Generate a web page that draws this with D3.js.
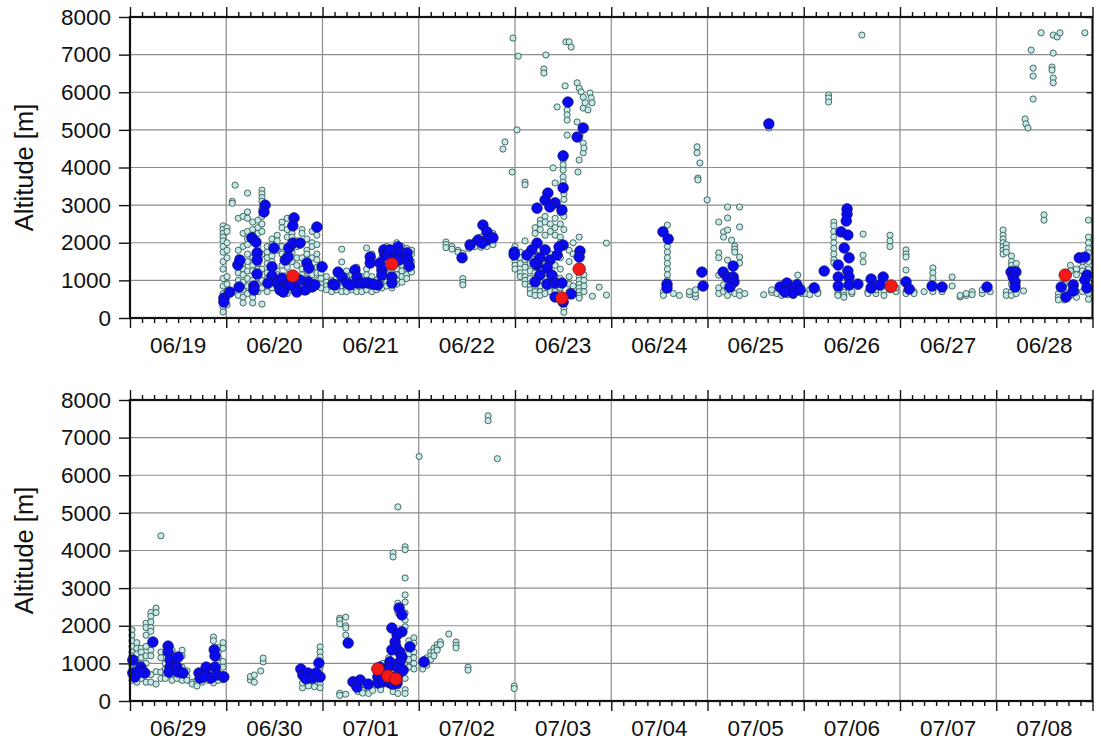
<!DOCTYPE html>
<html>
<head>
<meta charset="utf-8">
<script src="https://cdn.jsdelivr.net/npm/d3@7/dist/d3.min.js"></script>
<style>
  html, body { margin: 0; padding: 0; background: #fff; }
  svg { display: block; }
  text { font-family: "Liberation Sans", Arial, Helvetica, sans-serif; fill: #111; }
</style>
</head>
<body>
<svg id="chart" width="1099" height="751"></svg>
<script>
// Time is in hours since 06/19 00:00; each panel shows ten days.
const dayLabelsTop = ["06/19","06/20","06/21","06/22","06/23","06/24","06/25","06/26","06/27","06/28"];
const dayLabelsBottom = ["06/29","06/30","07/01","07/02","07/03","07/04","07/05","07/06","07/07","07/08"];
const altTicks = [0, 1000, 2000, 3000, 4000, 5000, 6000, 7000, 8000];

// All observations: [hour, [altitudes in m]]
const allProfiles = [
  [23.2,[2450,2350,2250,2150,2050,1900,1750,1500,1300,1050,850,650,450,300,160]],
  [24.2,[2400,2300,2000,1800,1600,1100,900,700,550,350]],
  [25.5,[3100,3050]],[26.2,[3530]],
  [27.0,[2650,1800,1600,1200,1000,800,600]],
  [28.2,[2700,2250,1900,1450,1300,1150,950,750,550,400]],
  [29.3,[3320,2820,2650,2300,2100,1950,1700,1500,1250,1050,850,650]],
  [30.6,[2550,2350,2200,1600,1400,1250,1000,800,550,400]],
  [31.9,[2600,2400,2250,1900,1450,1300,900,700]],
  [32.9,[3400,3300,3200,3100,2900,2700,2500,2300,1700,1300,1000,800,370]],
  [34.2,[1900,1750,1600,1450,1200,1050,850,700]],
  [35.4,[2100,1950,1650,1500,950,800]],
  [36.7,[2200,2050,1800,1250,1150,800]],
  [37.9,[2550,2400,1900,1700,1400,900,750]],
  [39.2,[2650,2350,2150,1350,1150,1000,800,650]],
  [40.4,[2250,2150,1750,1500,950,750]],
  [41.6,[2050,1900,1600,1400,1000,850]],
  [42.9,[2350,2250,1600,1300,1150,750]],
  [44.1,[2100,1800,1700,1250,1050,900,700]],
  [45.4,[2300,2000,1900,1600,1150,950,800]],
  [46.6,[2450,2200,1950,1700,1550,1350,1200,1000,850]],
  [47.6,[1400,1200,1050,900,800]],
  [49.0,[1100,950,850,750]],[50.3,[1000,900,800,700]],[51.5,[1200,1050,900,750]],
  [52.8,[1830,1490,1150,1000,850,700]],[54.0,[1250,1100,950,800,700]],
  [55.3,[1150,1000,850,750]],[56.5,[1350,1200,1050,900,750,700]],
  [57.8,[1100,950,800,700]],[59.0,[1860,1300,1150,1000,850,750]],
  [60.3,[1700,1450,1100,950,800,700]],[61.5,[1000,850,750]],
  [62.8,[1750,1600,1000,900,800]],[64.0,[1900,1500,1350,1150,950,850]],
  [65.3,[1650,1550,1250,1000,850,800]],[66.5,[2000,1750,1450,1300,1150,1000,900]],
  [67.8,[1900,1650,1400,1250,1100,950]],[69.0,[1850,1600,1450,1300,1150,1050]],
  [70.2,[1800,1700,1500,1350,1220]],
  [78.8,[2020,1950,1870]],[80.3,[1900,1830]],[81.8,[1800,1750]],
  [83.0,[1720,1050,950,880]],[84.5,[2000,1850]],[86.0,[2050,1950,1900]],
  [87.5,[2150,2080,1950,1880]],[89.0,[2200,2000,1900]],[90.5,[2250,2050,1950]],
  [93.0,[4490]],[93.5,[4680]],[95.3,[3880]],[95.5,[7440]],[96.5,[5000]],[96.8,[6960]],
  [98.5,[3610,3540]],[103.2,[6620,6510]],[103.7,[6990]],[108.7,[7340]],[109.5,[7340]],
  [110.0,[7200]],[108.5,[6170]],[111.5,[6250,5210]],[112.0,[6110,4200]],[112.5,[6010]],
  [113.0,[5870,5580,4650,4390]],[113.5,[5720]],[114.7,[5980]],[115.0,[5850]],[115.2,[5720]],
  [114.2,[5530]],[106.5,[5610]],[109.0,[5530,5400,5260,4860]],[112.2,[4860]],[113.2,[4520]],
  [111.7,[3880]],[105.5,[3990]],[108.0,[4200,4070,3930,3750,3610]],[106.0,[3590]],
  [96.0,[1900,1800,1650,1500,1400,1300]],
  [97.3,[1750,1600,1450,1200,1100]],
  [98.5,[2050,1550,1350,1100,1000,900]],
  [99.8,[1450,1250,1050,850,750,650]],
  [101.0,[2400,2250,1700,1200,800,700,600]],
  [102.3,[2600,2500,2350,1300,1000,850,700,600]],
  [103.5,[2700,2550,2200,1500,1250,1050,750,650]],
  [104.8,[2500,2300,1700,1200,1000,800,700]],
  [106.0,[2650,2400,2200,1400,1100,800,700,600]],
  [107.3,[2800,2500,2150,2000,1600,1300,1050,800,650]],
  [108.2,[3300,3150,2700,2350,480,350,250,150]],
  [109.5,[1800,1500,1100,900,700]],
  [110.5,[2000,1700,850]],
  [112.0,[2150,1200,1100,1000,900,800,700,600,530]],
  [113.2,[1150,1000,850,700]],
  [115.3,[580]],[117.0,[820]],[118.8,[610,1990]],
  [134.0,[2470,1900,1750,1600,1450,1300,1150,1000]],
  [133.0,[700,600]],[135.5,[650]],[137.0,[600]],
  [139.5,[620,700]],[141.0,[560,650,750]],
  [141.4,[4550,4390]],[142.1,[4120]],[141.6,[3720,3670]],[143.9,[3140]],
  [146.8,[2550,1730,1600,1140,800,650]],[148.0,[2290,2150,880,700]],
  [149.0,[2950,2660,2340,1540,750,600]],[150.0,[2070,700]],
  [150.8,[1910,1830,1750,650]],[152.0,[2950,2420,1620,1460,700,600]],
  [153.3,[650]],[158.0,[620]],[159.3,[5050]],[160.0,[680,750]],[161.3,[650]],
  [162.5,[600,700]],[164.0,[620,800]],[165.5,[600,680]],[166.5,[1140,950,700]],
  [167.5,[650,800]],
  [168.5,[650]],[169.5,[750,620]],[171.5,[700,650]],
  [174.2,[5930,5850,5740]],
  [175.5,[2550,2450,2300,2150,2000,1850,1700,1550,1460]],
  [176.5,[650,750,600]],[178.0,[680,600,550]],[180.0,[650,700]],
  [182.5,[7520]],[182.8,[2230,1670,1490]],
  [184.0,[700,650]],[186.0,[650,750]],[188.0,[700,600]],
  [189.5,[2200,2050,1900,750]],[191.0,[700,800]],
  [193.5,[1810,1700,1620,1275,700,650]],[195.5,[700,650]],[198.0,[700]],
  [200.2,[1330,1200,1060,750,700]],[202.5,[700]],[205.0,[1090,850]],
  [207.0,[560,600]],[208.5,[600,650]],[210.0,[700,620]],[212.5,[650,750]],[214.5,[700]],
  [217.7,[2340,2200,2100,2000,1900,1800,1700]],
  [218.5,[1950,1850,1750,700,600]],
  [219.8,[1650,1500,1400,1300,1150,900,700,600]],
  [221.0,[1450,1300,800,650]],[222.8,[720]],
  [227.2,[7580]],[230.2,[7520,7040,6380,6250]],[231.2,[7470]],[231.9,[7580]],[238.1,[7580]],
  [224.7,[7120]],[225.2,[6640,6430,5820]],[229.9,[6670,6590]],
  [223.2,[5290]],[223.4,[5160]],[223.9,[5050]],[227.9,[2740,2600]],
  [231.5,[650,550,480]],[233.0,[900,700,480]],[234.5,[1400,1250,600]],
  [236.0,[1300,1150,700,550]],[237.5,[1500,1350,1250,700]],
  [239.0,[2600,2150,2000,1850,1730,1500,1300,950,800,650,500]],
  [240.5,[1890,1750,1600,1450,1300,1200,950,850,650,550]],
  [241.7,[1550,1400,1250,1100,800,600,500]],
  [242.8,[1400,1300,1150,1000,700,600]],
  [244.0,[2070,1950,1750,1450,1200,1000,500]],
  [245.2,[2350,2250,2100,1950,1850,1350,1200,700,500]],
  [246.5,[2470,2350,780,450]],
  [247.7,[4390,1300,1150,770,600]],
  [248.8,[1000,850,700,600]],[250.5,[1350,1200,750,650,550]],
  [251.7,[1100,1000,650,600]],[253.0,[1350,1200,900,650,550]],
  [254.2,[800,650,550]],[255.5,[500,450]],[256.7,[550,450,400]],[258.0,[550,500]],
  [259.5,[800,550]],[260.8,[1700,1600,550,480]],
  [262.0,[1420,1300,1170,1000,750,550]],[263.2,[1550,1400,1050,900,700,560]],
  [270.0,[560,650]],[271.0,[690,500]],[272.6,[800]],[273.2,[1040,1140]],
  [283.0,[350,480]],[284.5,[450,400]],[286.0,[480,380]],
  [287.4,[1440,1300,1170,900,450,350]],
  [292.3,[2200,2150,2050,210,150]],[293.8,[2230,2000,1940,1750,180]],
  [296.8,[250]],[298.0,[280,210]],[299.5,[300,250,200]],[300.5,[280]],
  [302.5,[600,450,350,300]],[303.0,[1000,800,700,550]],[304.5,[1150,950,750]],
  [305.6,[3940,3830,600,350,250]],
  [306.8,[5160,2600,2350,1250,400,200]],
  [308.6,[4100,4020,3270,2820,2630,2340,2150,1970,950,600,300,200]],
  [309.5,[1600,1400,1250,1100,900]],[310.8,[1680,1540,1300,1150,1000,850]],
  [312.1,[6500]],[313.0,[950,850]],[314.0,[1150,1050,950]],[315.0,[1300,1200,1100]],
  [315.8,[1400,1300,1200]],[316.6,[1500,1420,1350]],[317.4,[1570,1500]],
  [319.5,[1780]],[321.3,[1570,1480,1410]],[324.3,[900,820]],
  [329.3,[7580,7450]],[331.6,[6440]],[335.8,[400,330]]
];

// Selected observations: [hour, altitude]
const selectedPoints = [
  [23.4,530],[23.4,425],[24.9,690],[26.9,1410],[27.4,1540],[27.2,825],[30.4,2130],[31.4,2020],
  [31.7,1730],[31.7,1540],[31.7,1170],[30.9,850],[30.9,745],[33.7,3000],[33.4,2820],[35.9,1860],
  [35.4,1360],[35.4,1115],[34.4,930],[36.7,930],[37.9,1060],[38.7,1540],[39.4,1620],[39.6,1860],
  [40.9,2660],[40.6,2450],[40.6,1990],[42.4,1990],[39.2,880],[41.1,825],[41.6,690],[44.1,1460],
  [44.6,1330],[44.4,960],[45.4,825],[46.6,2420],[47.9,1360],[46.1,880],[37.4,745],[42.4,1010],
  [43.6,745],[38.2,690],[39.9,880],
  [50.6,900],[51.9,1220],[52.9,1090],[54.1,930],[51.1,880],[56.1,1275],[56.6,1090],[56.9,930],
  [58.1,930],[59.4,930],[61.8,880],[59.9,1620],[59.9,1460],[62.3,1460],[62.8,1275],[62.8,1140],
  [63.3,1810],[63.6,1675],[65.3,1730],[65.3,1090],[65.3,930],[66.8,1890],[67.3,1730],[67.1,1540],
  [69.1,1730],[69.3,1540],[69.6,1380],[64.1,1675],[64.8,1810],[60.6,900],[54.9,880],
  [82.8,1600],[88.0,2470],[89.0,2290],[86.8,2075],[89.0,2075],[90.5,2130],[87.8,1990],[84.8,1940],
  [95.8,1750],[95.8,1675],
  [109.2,5740],[113.0,5050],[111.5,4810],[108.0,4310],[108.0,3460],[104.2,3320],[103.5,3135],
  [106.0,3060],[101.5,2920],[107.7,2870],[104.7,2950],[101.5,1990],[100.2,1810],[103.5,1810],
  [102.2,1600],[104.7,1540],[106.5,1675],[108.0,1940],[99.0,1675],[104.0,1330],[101.5,1410],
  [107.0,1890],[101.0,1460],[102.2,1140],[105.2,1140],[101.0,960],[104.0,900],[106.0,930],
  [107.7,930],[106.0,560],[108.0,425],[110.0,640],[112.2,1780],[112.0,1620],
  [132.9,2290],[134.2,2100],[133.9,900],[133.9,800],[142.6,1220],[142.9,850],
  [147.9,1220],[150.4,1380],[148.9,1090],[150.4,1090],[150.6,960],[149.6,825],[159.3,5160],
  [162.1,825],[163.8,930],[164.6,745],[166.3,880],[167.1,745],[165.3,665],[163.3,690],
  [178.8,2900],[178.8,2760],[178.6,2580],[177.3,2290],[179.0,2205],[178.1,1860],[179.3,1600],
  [176.6,1410],[179.0,1250],[176.6,1090],[179.3,1090],[176.6,850],[179.3,880],[173.1,1250],
  [170.6,800],[181.5,900],[184.8,1035],[184.8,800],[187.8,1090],[187.0,880],
  [193.5,960],[194.3,770],[200.0,850],[202.5,825],[213.7,825],
  [219.7,1220],[220.9,1220],[220.2,1090],[220.7,960],[220.7,825],[232.2,825],[233.4,560],
  [235.2,880],[235.2,720],[236.7,1600],[238.1,1620],[238.6,1140],[238.1,1010],[238.6,800],
  [240.7,1090],[240.7,745],[241.2,640],[242.7,900],[243.2,770],[243.7,745],[242.2,770],
  [245.7,1570],[249.5,1460],[249.5,1300],[250.0,1090],[250.0,900],[249.7,770],[252.0,1170],
  [251.7,900],[252.0,770],[253.2,745],[257.2,745],[257.5,610],[259.0,900],[259.0,690],
  [260.2,610],[261.0,1360],[261.2,1200],[261.2,900],[261.7,690],[263.4,640],[258.2,640],
  [282.6,850],[283.1,690],[284.4,745],[283.9,590],[285.6,610],[287.1,1010],[287.4,640],[286.4,745],
  [294.4,1540],[295.6,510],[296.6,370],[297.4,560],[299.4,450],[305.3,1940],[307.8,1840],
  [306.6,1760],[306.1,1570],[306.3,1440],[307.3,1300],[309.8,1440],[307.8,1170],[307.3,1040],
  [304.8,1040],[304.3,880],[306.8,880],[306.8,690],[302.3,900],[301.8,640],[301.8,480],
  [303.1,510],[304.8,480],[305.6,450],[306.6,480],[307.1,2470],[307.8,2290],[308.1,820],
  [313.3,1040],[303.6,770],[305.3,1360]
];

// Highlighted observations: [hour, altitude]
const highlightPoints = [
  [40.6,1115],[65.3,1435],[107.7,530],[112.0,1300],[189.8,850],[233.2,1140],
  [301.8,850],[304.3,665],[306.3,585]
];

const smallPoints = allProfiles.flatMap(([h, alts]) => alts.map(a => [h, a]));

const svg = d3.select("#chart");
const left = 130, right = 1092.5;
const panels = [
  { top: 17, bottom: 318, start: 0, labels: dayLabelsTop },
  { top: 400, bottom: 701, start: 240, labels: dayLabelsBottom }
];

panels.forEach(p => {
  const x = d3.scaleLinear().domain([p.start, p.start + 240]).range([left, right]);
  const y = d3.scaleLinear().domain([0, 8000]).range([p.bottom, p.top]);
  const g = svg.append("g");

  const dayHours = d3.range(1, 10).map(d => p.start + d * 24);
  const minorHours = d3.range(0, 241, 3).map(h => p.start + h).filter(h => (h - p.start) % 24 !== 0);
  const majorHours = d3.range(0, 241, 24).map(h => p.start + h);

  // grid
  g.append("g").selectAll("line.v").data(dayHours).join("line")
    .attr("x1", d => x(d)).attr("x2", d => x(d))
    .attr("y1", p.top).attr("y2", p.bottom)
    .attr("stroke", "#8c8c8c").attr("stroke-width", 1.2);
  g.append("g").selectAll("line.h").data(altTicks.slice(1, -1)).join("line")
    .attr("x1", left).attr("x2", right)
    .attr("y1", d => y(d)).attr("y2", d => y(d))
    .attr("stroke", "#8c8c8c").attr("stroke-width", 1.2);

  // axes
  const styleAxis = sel => {
    sel.select(".domain").remove();
    sel.selectAll(".tick line").attr("stroke", "#111").attr("stroke-width", 1.4);
  };
  g.append("g").attr("transform", `translate(0,${p.bottom})`)
    .call(d3.axisBottom(x).tickValues(majorHours).tickSize(10).tickFormat(""))
    .call(styleAxis);
  g.append("g").attr("transform", `translate(0,${p.bottom})`)
    .call(d3.axisBottom(x).tickValues(minorHours).tickSize(5).tickFormat(""))
    .call(styleAxis);
  g.append("g").attr("transform", `translate(0,${p.top})`)
    .call(d3.axisTop(x).tickValues(majorHours).tickSize(10).tickFormat(""))
    .call(styleAxis);
  g.append("g").attr("transform", `translate(0,${p.top})`)
    .call(d3.axisTop(x).tickValues(minorHours).tickSize(5).tickFormat(""))
    .call(styleAxis);
  const yAxis = g.append("g").attr("transform", `translate(${left},0)`)
    .call(d3.axisLeft(y).tickValues(altTicks).tickSize(11).tickPadding(8).tickFormat(d3.format("d")))
    .call(styleAxis);
  yAxis.selectAll("text").attr("font-size", 22.5).attr("fill", "#111")
    .attr("font-family", "'Liberation Sans', Arial, sans-serif");
  g.append("g").attr("transform", `translate(${right},0)`)
    .call(d3.axisRight(y).tickValues(altTicks).tickSize(-6).tickFormat(""))
    .call(styleAxis);

  // day labels
  g.append("g").selectAll("text").data(p.labels).join("text")
    .attr("x", (d, i) => x(p.start + i * 24 + 12))
    .attr("y", p.bottom + 35)
    .attr("text-anchor", "middle")
    .attr("font-size", 22.5)
    .text(d => d);

  // y title
  g.append("text")
    .attr("transform", `translate(33,${(p.top + p.bottom) / 2}) rotate(-90)`)
    .attr("text-anchor", "middle")
    .attr("font-size", 25.5)
    .text("Altitude [m]");

  const inPanel = d => d[0] >= p.start && d[0] <= p.start + 240;

  g.append("g").selectAll("circle").data(smallPoints.filter(inPanel)).join("circle")
    .attr("cx", d => x(d[0])).attr("cy", d => y(d[1])).attr("r", 3.1)
    .attr("fill", "#c4ebe7").attr("stroke", "#3a5855").attr("stroke-width", 0.9);
  g.append("g").selectAll("circle").data(selectedPoints.filter(inPanel)).join("circle")
    .attr("cx", d => x(d[0])).attr("cy", d => y(d[1])).attr("r", 5.3)
    .attr("fill", "#0a0af0").attr("stroke", "#10106a").attr("stroke-width", 0.7);
  g.append("g").selectAll("circle").data(highlightPoints.filter(inPanel)).join("circle")
    .attr("cx", d => x(d[0])).attr("cy", d => y(d[1])).attr("r", 6.3)
    .attr("fill", "#f51818").attr("stroke", "#6a1010").attr("stroke-width", 0.7);

  // frame
  g.append("rect")
    .attr("x", left).attr("y", p.top)
    .attr("width", right - left).attr("height", p.bottom - p.top)
    .attr("fill", "none").attr("stroke", "#111").attr("stroke-width", 2.2);
});
</script>
</body>
</html>
